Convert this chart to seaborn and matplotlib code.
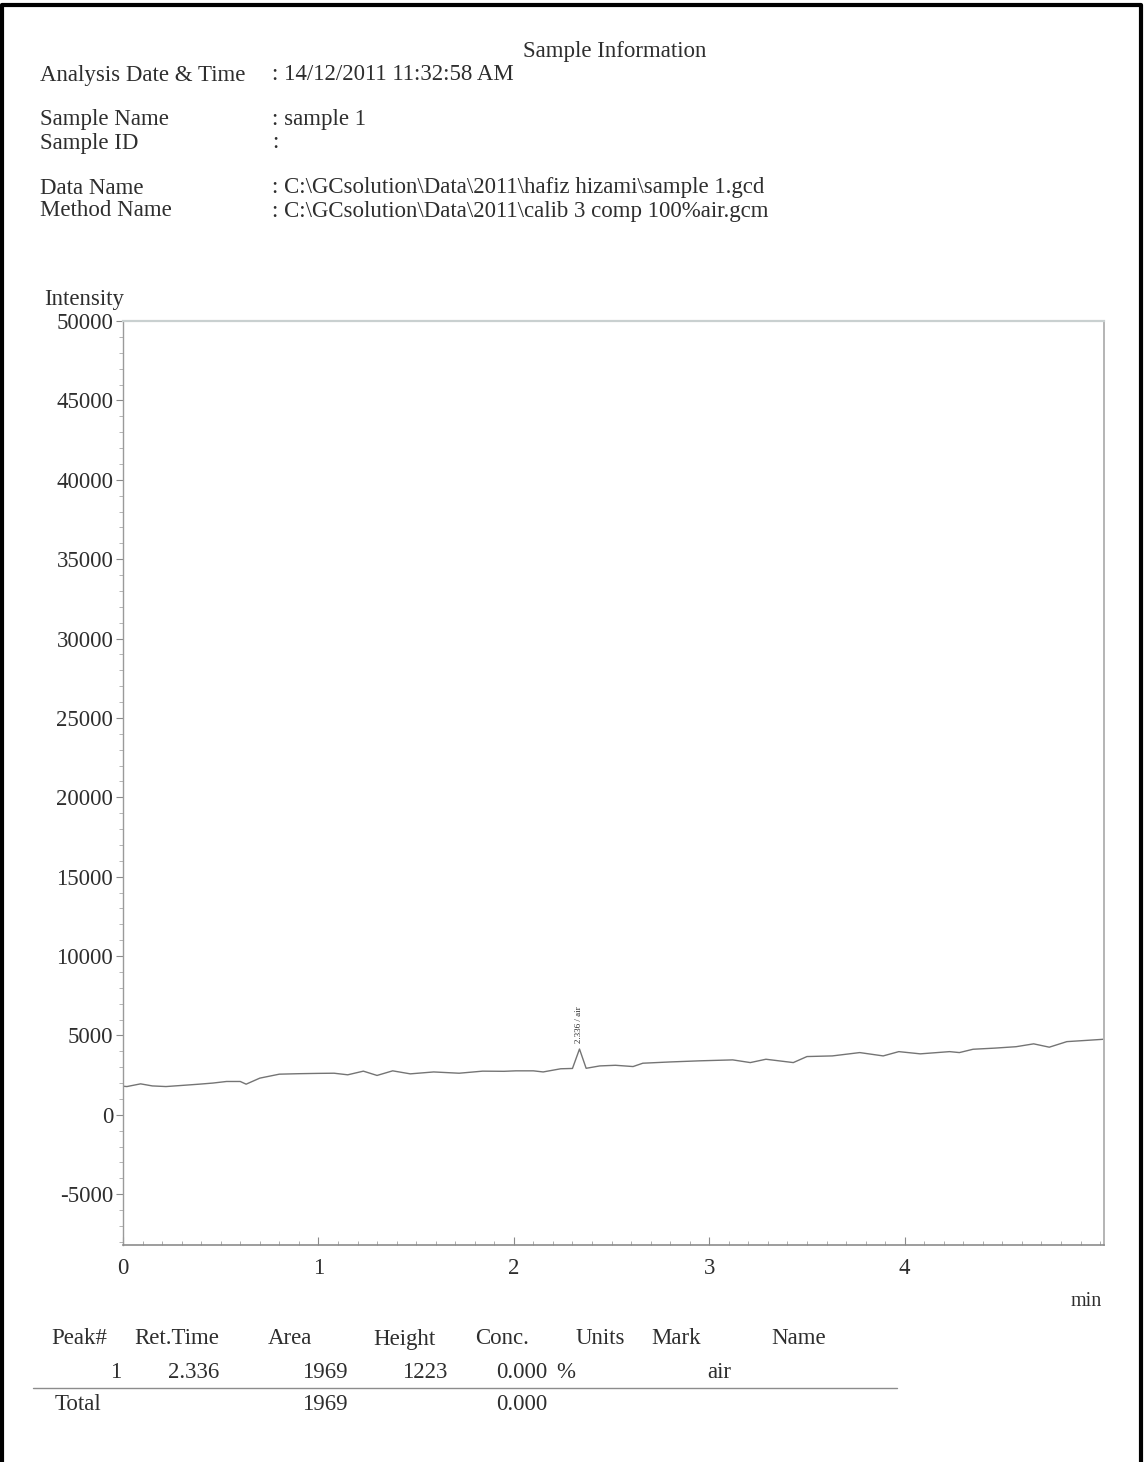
import matplotlib
matplotlib.use("Agg")
import matplotlib.pyplot as plt
from matplotlib.lines import Line2D
from matplotlib.ticker import MultipleLocator
import numpy as np
import pandas as pd
import seaborn as sns

# Chromatogram trace (retention time in min, detector intensity)
ret_time = [0.00, 0.02, 0.09, 0.15, 0.22, 0.30, 0.39, 0.46, 0.53, 0.60, 0.63,
            0.70, 0.80, 0.90, 1.00, 1.08, 1.15, 1.23, 1.30, 1.38, 1.47, 1.59,
            1.72, 1.84, 1.95, 2.01, 2.10, 2.15, 2.24, 2.30, 2.336, 2.37, 2.44,
            2.52, 2.61, 2.66, 2.80, 2.95, 3.12, 3.21, 3.29, 3.43, 3.50, 3.63,
            3.77, 3.89, 3.97, 4.08, 4.23, 4.28, 4.35, 4.46, 4.57, 4.66, 4.74,
            4.83, 4.92, 5.02]
intensity = [1800, 1780, 1950, 1820, 1780, 1850, 1930, 2000, 2100, 2100, 1930,
             2310, 2560, 2590, 2610, 2620, 2520, 2750, 2480, 2770, 2580, 2700,
             2620, 2750, 2740, 2770, 2770, 2700, 2900, 2920, 4143, 2930, 3080,
             3120, 3040, 3250, 3330, 3400, 3460, 3290, 3500, 3290, 3670, 3710,
             3920, 3710, 3980, 3840, 3980, 3920, 4130, 4200, 4290, 4470, 4260,
             4610, 4680, 4760]

# Peak table
peak_no = ["1"]
peak_rt = ["2.336"]
peak_area = ["1969"]
peak_height = ["1223"]
peak_conc = ["0.000"]
peak_units = ["%"]
peak_name = ["air"]
total_area = "1969"
total_conc = "0.000"

# Report header
header_labels = ["Analysis Date & Time", "Sample Name", "Sample ID",
                 "Data Name", "Method Name"]
header_values = [": 14/12/2011 11:32:58 AM", ": sample 1", ":",
                 ": C:\\GCsolution\\Data\\2011\\hafiz hizami\\sample 1.gcd",
                 ": C:\\GCsolution\\Data\\2011\\calib 3 comp 100%air.gcm"]
header_rows_px = [75, 120, 143, 188, 211]

y_ticks = [-5000, 0, 5000, 10000, 15000, 20000, 25000, 30000, 35000,
           40000, 45000, 50000]
x_ticks = [0, 1, 2, 3, 4]

sns.set_theme(style="white")
plt.rcParams["font.family"] = ["Liberation Serif", "DejaVu Serif"]

W, H = 1144, 1462
fig = plt.figure(figsize=(W / 100, H / 100), dpi=100)
fig.patch.set_facecolor("white")

TXT = "#2e2e2e"
FS = 16.5


def fx(px):
    return px / W


def fy(py):
    return 1 - py / H


# page border (left, top, right)
fig.add_artist(Line2D([fx(2), fx(2), fx(1141), fx(1141)],
                      [fy(1462), fy(4.5), fy(4.5), fy(1462)],
                      color="black", lw=3, transform=fig.transFigure))

ax = fig.add_axes([fx(123), fy(1245), fx(1104) - fx(123), fy(321) - fy(1245)])

df = pd.DataFrame({"Ret.Time": ret_time, "Intensity": intensity})
sns.lineplot(data=df, x="Ret.Time", y="Intensity", ax=ax, color="#747474",
             lw=1.0, estimator=None, sort=False)

ax.set_xlim(0, 5.02)
ax.set_ylim(-8200, 50000)
ax.set_xlabel("")
ax.set_ylabel("")

ax.set_yticks(y_ticks)
ax.set_yticklabels([str(v) for v in y_ticks])
ax.yaxis.set_minor_locator(MultipleLocator(1000))
ax.set_xticks(x_ticks)
ax.set_xticklabels([str(v) for v in x_ticks])
ax.xaxis.set_minor_locator(MultipleLocator(0.1))

ax.tick_params(axis="y", which="major", direction="out", length=5, width=0.8,
               color="#8a8a8a", labelsize=FS, labelcolor=TXT, pad=2, left=True)
ax.tick_params(axis="y", which="minor", direction="out", length=3, width=0.6,
               color="#a8a8a8", left=True)
ax.tick_params(axis="x", which="major", direction="in", length=6, width=0.8,
               color="#8a8a8a", labelsize=FS, labelcolor=TXT, pad=9, bottom=True)
ax.tick_params(axis="x", which="minor", direction="in", length=3, width=0.6,
               color="#a0a0a0", bottom=True)

for side, col, lw in [("left", "#9a9a9a", 1.0), ("bottom", "#8c8c8c", 1.2),
                      ("top", "#c9d0d0", 1.6), ("right", "#b4b4b4", 1.4)]:
    ax.spines[side].set_visible(True)
    ax.spines[side].set_color(col)
    ax.spines[side].set_linewidth(lw)
ax.grid(False)

# peak annotation above the apex
apex_t = float(peak_rt[0])
apex_y = intensity[ret_time.index(apex_t)]
ax.annotate(f"{peak_rt[0]} / {peak_name[0]}", xy=(apex_t, apex_y),
            xytext=(0, 4), textcoords="offset points", rotation=90,
            ha="center", va="bottom", fontsize=6.5, color=TXT)

# report header text
fig.text(fx(615), fy(52), "Sample Information", ha="center", va="center",
         fontsize=FS, color=TXT)
for lab, val, row in zip(header_labels, header_values, header_rows_px):
    fig.text(fx(40), fy(row), lab, ha="left", va="center", fontsize=FS, color=TXT)
    fig.text(fx(272), fy(row), val, ha="left", va="center", fontsize=FS, color=TXT)

fig.text(fx(44), fy(299), "Intensity", ha="left", va="center", fontsize=FS,
         color=TXT)
fig.text(fx(1102), fy(1302), "min", ha="right", va="center", fontsize=FS - 2,
         color=TXT)

# peak table
hdr_y = fy(1339)
for txt, xp in [("Peak#", 51), ("Ret.Time", 134), ("Area", 268),
                ("Height", 373), ("Conc.", 475), ("Units", 576),
                ("Mark", 651), ("Name", 771)]:
    fig.text(fx(xp), hdr_y, txt, ha="left", va="center", fontsize=FS, color=TXT)

row_y = fy(1372)
for i in range(len(peak_no)):
    fig.text(fx(121), row_y, peak_no[i], ha="right", va="center", fontsize=FS, color=TXT)
    fig.text(fx(219), row_y, peak_rt[i], ha="right", va="center", fontsize=FS, color=TXT)
    fig.text(fx(348), row_y, peak_area[i], ha="right", va="center", fontsize=FS, color=TXT)
    fig.text(fx(447), row_y, peak_height[i], ha="right", va="center", fontsize=FS, color=TXT)
    fig.text(fx(547), row_y, peak_conc[i], ha="right", va="center", fontsize=FS, color=TXT)
    fig.text(fx(556), row_y, peak_units[i], ha="left", va="center", fontsize=FS, color=TXT)
    fig.text(fx(707), row_y, peak_name[i], ha="left", va="center", fontsize=FS, color=TXT)

fig.add_artist(Line2D([fx(33), fx(897)], [fy(1388), fy(1388)], color="#8c8c8c",
                      lw=1.0, transform=fig.transFigure))

tot_y = fy(1404)
fig.text(fx(55), tot_y, "Total", ha="left", va="center", fontsize=FS, color=TXT)
fig.text(fx(348), tot_y, total_area, ha="right", va="center", fontsize=FS, color=TXT)
fig.text(fx(547), tot_y, total_conc, ha="right", va="center", fontsize=FS, color=TXT)

fig.savefig("out.png", dpi=100, facecolor="white")
